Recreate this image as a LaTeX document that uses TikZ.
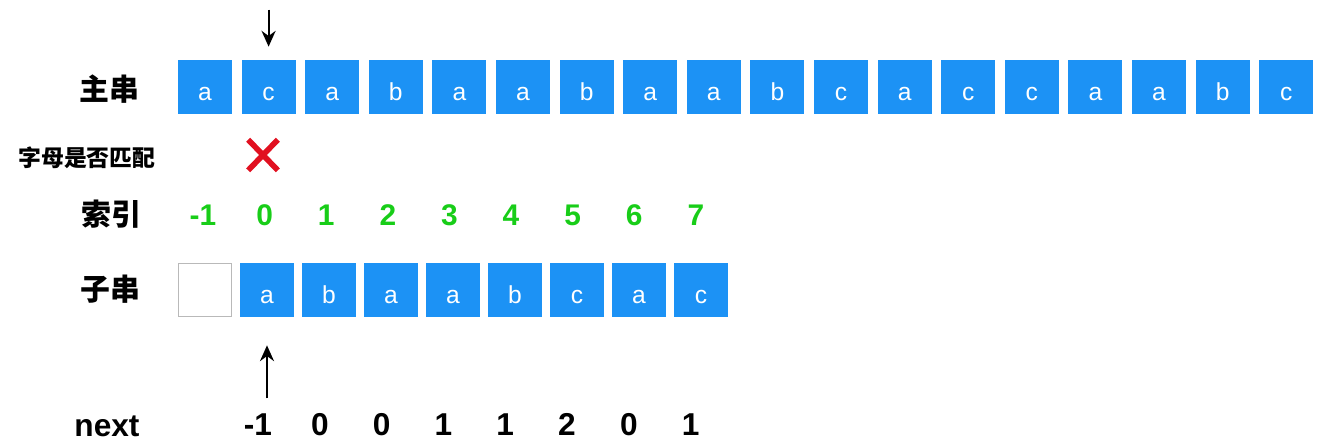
\documentclass[tikz,border=0pt]{standalone}
\usepackage{fontspec}
\setmainfont{Liberation Sans}
\newfontfamily\cjk{Noto Sans CJK SC}
\usetikzlibrary{arrows.meta,positioning}
\definecolor{boxblue}{RGB}{28, 146, 245}
\definecolor{idxgreen}{RGB}{24, 205, 24}
\definecolor{crossred}{RGB}{225, 16, 32}

\tikzset{
    charbox/.style={fill=boxblue, minimum size=1.08cm, inner sep=0pt, text=white,
        text height=0.52cm, text depth=0cm, font=\fontsize{14}{15}\selectfont},
    blankbox/.style={draw=gray!55, line width=0.6pt, minimum size=1.06cm, inner sep=0pt},
    rowlabel/.style={font=\cjk\bfseries\fontsize{17}{18}\selectfont},
    smalllabel/.style={font=\cjk\bfseries\fontsize{13}{14}\selectfont},
    idxnum/.style={text=idxgreen, anchor=base, font=\bfseries\fontsize{17}{18}\selectfont},
    nextnum/.style={anchor=base, font=\bfseries\fontsize{18}{19}\selectfont},
    crossbox/.style={minimum width=0.58cm, minimum height=0.6cm, inner sep=0pt},
    ptr/.style={-{Stealth[length=9pt,width=8pt]}, line width=1.1pt}
}

\begin{document}
\begin{tikzpicture}[x=0.02cm, y=-0.02cm]
    \useasboundingbox (0,0) rectangle (1317,441);

    % Row labels
    \node[rowlabel] (lmain) at (109,89) {主串};
    \node[smalllabel] (lmatch) at (87,158) {字母是否匹配};
    \node[rowlabel] (lidx) at (111,214) {索引};
    \node[rowlabel] (lsub) at (110,289) {子串};
    \node[nextnum] (lnext) at (107,436) {next};

    % Main string
    \foreach \c [count=\i] in {a,c,a,b,a,a,b,a,a,b,c,a,c,c,a,a,b,c} {
        \node[charbox] (m\i) at ({205+63.6*(\i-1)}, 87) {\c};
    }

    % Pattern string (slot 0 left empty)
    \node[blankbox] (s0) at (205,290) {};
    \foreach \c [count=\i] in {a,b,a,a,b,c,a,c} {
        \node[charbox] (s\i) at ({205+62*\i}, 290) {\c};
    }

    % Index row
    \foreach \v [count=\i from 0] in {-1,0,1,2,3,4,5,6,7} {
        \node[idxnum] (i\i) at ({203+61.6*\i}, 225) {\v};
    }

    % next array
    \foreach \v [count=\i] in {-1,0,0,1,1,2,0,1} {
        \node[nextnum] (n\i) at ({258+61.8*(\i-1)}, 435) {\v};
    }

    % Mismatch mark
    \node[crossbox] (miss) at (263,155) {};
    \draw[crossred, line width=3.2pt] (miss.north west) -- (miss.south east)
        (miss.south west) -- (miss.north east);

    % Pointers
    \draw[ptr] ([yshift=1cm]m2.north) -- ([yshift=0.26cm]m2.north);
    \draw[ptr] ([yshift=-1.62cm]s1.south) -- ([yshift=-0.56cm]s1.south);
\end{tikzpicture}
\end{document}
